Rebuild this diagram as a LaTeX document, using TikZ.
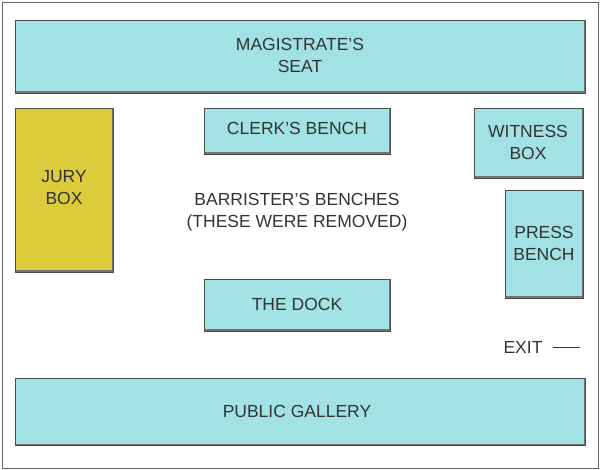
\documentclass[tikz,border=0pt]{standalone}
\usepackage{fontspec}
\setmainfont{Liberation Sans}
\definecolor{cyanbox}{HTML}{A2E2E4}
\definecolor{yellowbox}{HTML}{DCCB3A}
\definecolor{txt}{HTML}{333333}
\begin{document}
\begin{tikzpicture}[x=1pt,y=-1pt,
  room/.style={fill=cyanbox,draw=black!70,line width=0.8pt,
     path picture={\draw[black!55,line width=3pt] (path picture bounding box.north east) -- (path picture bounding box.south east) -- (path picture bounding box.south west);}},
  lbl/.style={text=txt,font=\fontsize{17.5}{22}\selectfont,align=center}]
\useasboundingbox (0,0) rectangle (600,470);
\draw[black!60,line width=0.8pt] (2,2) rectangle (598,468);
\draw[room] (15,20) rectangle (585,93);
\node[lbl] (mag) at (300,55) {MAGISTRATE'S\\SEAT};
\draw[room,fill=yellowbox] (15,108) rectangle (113,272);
\node[lbl] (jury) at (64,188) {JURY\\BOX};
\draw[room] (204,108) rectangle (390,154);
\node[lbl] (clerk) at (297,128) {CLERK'S BENCH};
\draw[room] (474,108) rectangle (583,178);
\node[lbl] (wit) at (528,142) {WITNESS\\BOX};
\draw[room] (505,190) rectangle (583,298);
\node[lbl] (press) at (544,243) {PRESS\\BENCH};
\draw[room] (204,279) rectangle (390,331);
\node[lbl] (dock) at (297,304) {THE DOCK};
\draw[room] (15,378) rectangle (585,445);
\node[lbl] (pub) at (297,411) {PUBLIC GALLERY};
\node[lbl] (bar) at (297,212) {BARRISTER'S BENCHES\\(THESE WERE REMOVED)};
\node[lbl,anchor=east] (exit) at (546,347) {EXIT};
\coordinate (e2) at (580,347);
\draw[txt,line width=0.8pt] (exit.east)++(7,0) -- (e2);
\end{tikzpicture}
\end{document}
